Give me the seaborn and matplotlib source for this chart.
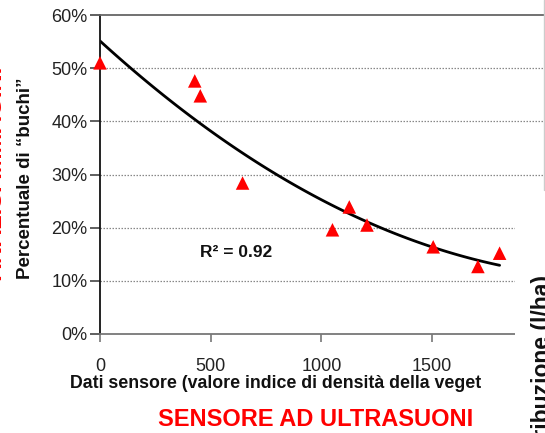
import numpy as np
import pandas as pd
import matplotlib
matplotlib.use("Agg")
import matplotlib.pyplot as plt
import seaborn as sns
from matplotlib.patches import Rectangle
from matplotlib.lines import Line2D

# ---- data ----
sensor = [0, 428, 453, 644, 1050, 1126, 1206, 1505, 1707, 1805]
holes_pct = [51.0, 47.6, 44.8, 28.4, 19.6, 23.9, 20.5, 16.4, 12.7, 15.2]
y_ticks = [0, 10, 20, 30, 40, 50, 60]
y_tick_labels = ["0%", "10%", "20%", "30%", "40%", "50%", "60%"]
x_ticks = [0, 500, 1000, 1500]
x_tick_labels = ["0", "500", "1000", "1500"]
r2_label = "R² = 0.92"
x_label = "Dati sensore (valore indice di densità della veget"
y_label = "Percentuale di “buchi”"
bottom_title = "SENSORE AD ULTRASUONI"
left_title = "ANALISI IMMAGINI"
right_title = "Volume di distribuzione (l/ha)"

df = pd.DataFrame({"sensor": sensor, "holes": holes_pct})

sns.set_theme(style="white")
plt.rcParams["font.family"] = ["Liberation Sans", "DejaVu Sans"]

W, H = 545, 433
fig = plt.figure(figsize=(W / 100, H / 100), dpi=100)
fig.patch.set_facecolor("white")
ax = fig.add_axes([100 / W, 1 - 334 / H, 445 / W, (334 - 15) / H])

# trendline (2nd-order polynomial fit)
sns.regplot(data=df, x="sensor", y="holes", order=2, ci=None, scatter=False,
            line_kws=dict(color="black", lw=2.0), ax=ax)
# points
sns.scatterplot(data=df, x="sensor", y="holes", marker="^", s=95, color="#ff0000",
                edgecolor="none", ax=ax, zorder=5, clip_on=False)

ax.set_xlim(0, 2010)
ax.set_ylim(0, 60)
ax.set_yticks(y_ticks)
ax.set_yticklabels(y_tick_labels)
ax.set_xticks(x_ticks)
ax.set_xticklabels(x_tick_labels)

for v in y_ticks[1:-1]:
    ax.axhline(v, color="#888888", lw=0.9, ls=(0, (1.2, 1.2)), zorder=1)

ax.spines["right"].set_visible(False)
ax.spines["left"].set_color("#111111")
ax.spines["left"].set_linewidth(1.3)
ax.spines["bottom"].set_color("#777777")
ax.spines["bottom"].set_linewidth(1.3)
ax.spines["top"].set_color("#666666")
ax.spines["top"].set_linewidth(1.3)

ax.tick_params(axis="y", which="major", left=True, length=7, width=1.2, color="#444444",
               pad=2, labelsize=13, labelcolor="#222222")
ax.tick_params(axis="x", which="major", bottom=True, length=6, width=1.2, color="#777777",
               pad=11, labelsize=13, labelcolor="#222222")

ax.set_xlabel(x_label, fontsize=12.8, fontweight="bold", color="#111111")
ax.set_ylabel(y_label, fontsize=13.5, fontweight="bold", color="#111111")
ax.xaxis.set_label_coords((276 - 100) / 445, -(375 - 334) / (334 - 15))
ax.yaxis.set_label_coords(-(100 - 34) / 445, (334 - 178) / (334 - 15))

ax.text(450, 15.4, r2_label, fontsize=12.5, fontweight="bold", color="#111111",
        ha="left", va="center")

# cover from the neighbouring chart (bottom-right)
fig.add_artist(Rectangle((515 / W, 0), 30 / W, 1 - 193 / H, transform=fig.transFigure,
                         facecolor="white", edgecolor="none", zorder=10))
fig.add_artist(Line2D([544 / W, 544 / W], [1 - 190 / H, 1.0], transform=fig.transFigure,
                      color="#cccccc", lw=1.0, zorder=11))

fig.text(542 / W, 1 - 275 / H, right_title, rotation=90, ha="center", va="top",
         fontsize=16.5, fontweight="bold", color="#111111", zorder=12)
fig.text(316 / W, 1 - 419 / H, bottom_title, ha="center", va="center",
         fontsize=17, fontweight="bold", color="#ff0000")
fig.text(7 / W, 1 - 173 / H, left_title, rotation=90, ha="right", va="center",
         fontsize=17, fontweight="bold", color="#ff0000")

fig.savefig("out.png", dpi=100, facecolor="white")
